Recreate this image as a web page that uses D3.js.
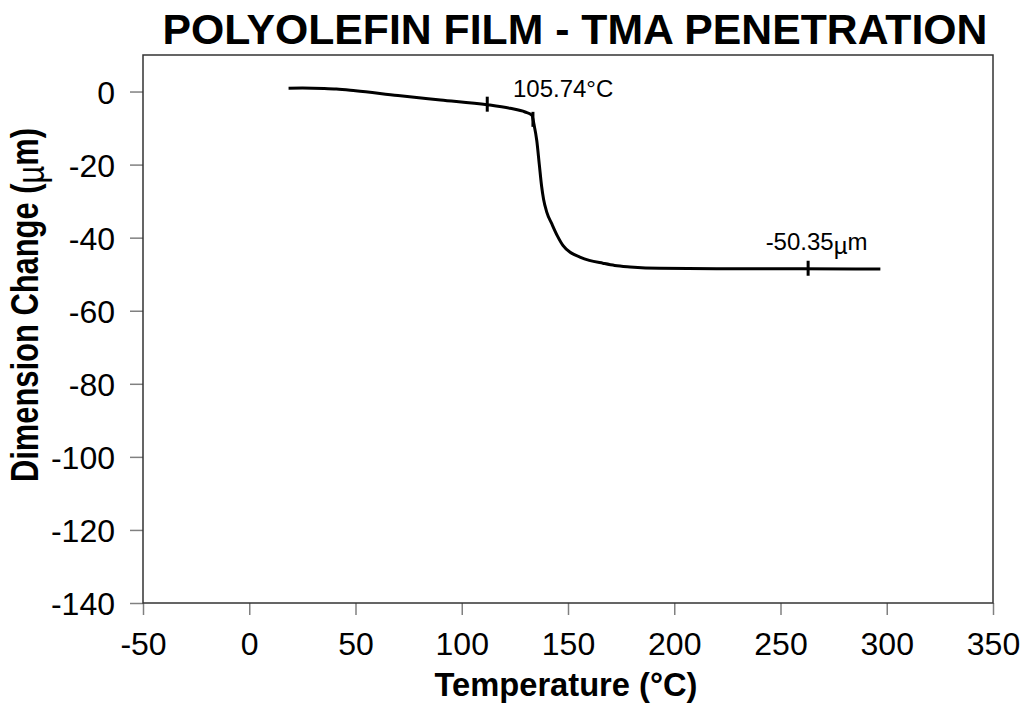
<!DOCTYPE html>
<html>
<head>
<meta charset="utf-8">
<script src="https://cdn.jsdelivr.net/npm/d3@7"></script>
<style>
  body { margin: 0; background: #fff; }
  text { font-family: "Liberation Sans", Arial, sans-serif; fill: #000; }
</style>
</head>
<body>
<div id="chart"></div>
<script>
// curve: temperature (°C) and dimension change (µm)
const temps = [18.5, 25, 35, 41, 50, 70, 90, 112, 122.7, 129.8, 133, 134, 135.3, 136.5, 137.6,
  138.5, 140, 142.3, 145, 147.6, 151, 155.6, 160, 166.4, 172, 179.2, 193, 220, 260, 297];
const dims = [0.9, 0.95, 0.85, 0.7, 0.2, -1.1, -2.3, -3.6, -4.6, -5.6, -6.5, -9, -13.4, -20, -26,
  -29.5, -33, -36.1, -39.5, -42.1, -44, -45.3, -46.2, -47.0, -47.6, -48.0, -48.4, -48.5, -48.5, -48.6];

// small vertical markers on the curve
const markerTemps = [112, 133.5, 263];

// annotations (text start position in data units)
const noteTexts = ["105.74°C", "-50.35"];
const noteUnits = ["", "µm"];
const noteT = [124.1, 243];
const noteV = [-1.4, -43.5];

const xTicks = [-50, 0, 50, 100, 150, 200, 250, 300, 350];
const yTicks = [-140, -120, -100, -80, -60, -40, -20, 0];

const width = 1024, height = 704;
const margin = { top: 55, right: 31, bottom: 101, left: 143 };

const svg = d3.select("#chart")
    .append("svg")
    .attr("width", width)
    .attr("height", height);

const x = d3.scaleLinear().domain([-50, 350]).range([margin.left, width - margin.right]);
const y = d3.scaleLinear().domain([-140, 10]).range([height - margin.bottom, margin.top]);

// title
svg.append("text")
    .attr("x", 575)
    .attr("y", 44)
    .attr("text-anchor", "middle")
    .attr("font-size", 42)
    .attr("font-weight", "bold")
    .attr("textLength", 825)
    .attr("lengthAdjust", "spacingAndGlyphs")
    .text("POLYOLEFIN FILM - TMA PENETRATION");

// axes
const xAxis = svg.append("g")
    .attr("transform", `translate(0,${height - margin.bottom})`)
    .call(d3.axisBottom(x).tickValues(xTicks).tickSize(12).tickPadding(17).tickFormat(d3.format("d")));
const yAxis = svg.append("g")
    .attr("transform", `translate(${margin.left},0)`)
    .call(d3.axisLeft(y).tickValues(yTicks).tickSize(13).tickPadding(15).tickFormat(d3.format("d")));

[xAxis, yAxis].forEach(g => {
    g.select(".domain").remove();
    g.selectAll("line").attr("stroke", "#808080").attr("stroke-width", 1.5);
    g.selectAll("text")
        .attr("font-size", 32)
        .attr("font-family", "'Liberation Sans', Arial, sans-serif")
        .attr("fill", "#000");
});
yAxis.selectAll("text").attr("dy", "0.36em");
// d3 prints a proper minus sign, the picture uses a hyphen
xAxis.selectAll("text").text(d => String(d));
yAxis.selectAll("text").text(d => String(d));

// plot frame
svg.append("rect")
    .attr("x", x(-50))
    .attr("y", y(10))
    .attr("width", x(350) - x(-50))
    .attr("height", y(-140) - y(10))
    .attr("fill", "none")
    .attr("stroke", "#333")
    .attr("stroke-width", 1.5);

// axis titles
svg.append("text")
    .attr("x", 566)
    .attr("y", 696)
    .attr("text-anchor", "middle")
    .attr("font-size", 34)
    .attr("font-weight", "bold")
    .attr("textLength", 263)
    .attr("lengthAdjust", "spacingAndGlyphs")
    .text("Temperature (°C)");

const yTitle = svg.append("text")
    .attr("transform", "translate(38,305) rotate(-90)")
    .attr("text-anchor", "middle")
    .attr("font-size", 38)
    .attr("font-weight", "bold")
    .attr("textLength", 354)
    .attr("lengthAdjust", "spacingAndGlyphs");
yTitle.append("tspan").text("Dimension Change (");
yTitle.append("tspan").attr("dy", 6).attr("font-weight", "normal").text("µ");
yTitle.append("tspan").attr("dy", -6).text("m)");

// the curve
const points = temps.map((t, i) => [t, dims[i]]);
const line = d3.line()
    .x(d => x(d[0]))
    .y(d => y(d[1]))
    .curve(d3.curveMonotoneX);

svg.append("path")
    .datum(points)
    .attr("d", line)
    .attr("fill", "none")
    .attr("stroke", "#000")
    .attr("stroke-width", 3)
    .attr("stroke-linejoin", "round");

// markers: value on the curve found by linear lookup
const bis = d3.bisector(d => d[0]).left;
function valueAt(t) {
    const i = Math.max(1, Math.min(points.length - 1, bis(points, t)));
    const a = points[i - 1], b = points[i];
    return a[1] + (b[1] - a[1]) * (t - a[0]) / (b[0] - a[0]);
}
svg.append("g")
    .selectAll("line")
    .data(markerTemps)
    .enter()
    .append("line")
    .attr("x1", d => x(d))
    .attr("x2", d => x(d))
    .attr("y1", d => y(valueAt(d)) - 8)
    .attr("y2", d => y(valueAt(d)) + 7)
    .attr("stroke", "#000")
    .attr("stroke-width", 3);

// annotations
noteTexts.forEach((txt, i) => {
    const t = svg.append("text")
        .attr("x", x(noteT[i]))
        .attr("y", y(noteV[i]))
        .attr("font-size", 24)
        .text(txt);
    if (noteUnits[i]) {
        t.append("tspan").attr("dy", 4).text(noteUnits[i][0]);
        t.append("tspan").attr("dy", -4).text(noteUnits[i].slice(1));
    }
});
</script>
</body>
</html>
